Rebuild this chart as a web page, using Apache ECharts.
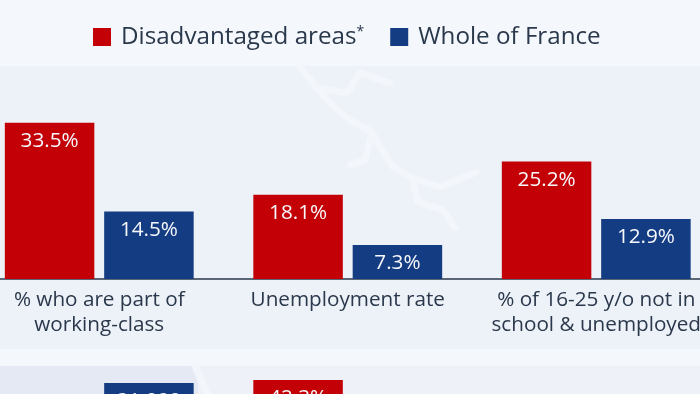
<!DOCTYPE html>
<html>
<head>
<meta charset="utf-8">
<style>
  html, body { margin: 0; padding: 0; background: #f4f7fb; overflow: hidden; }
  #chart { width: 700px; height: 394px; }
</style>
<script src="https://cdn.jsdelivr.net/npm/echarts@6/dist/echarts.min.js"></script>
</head>
<body>
<div id="chart"></div>
<script>
const seriesNames = ["Disadvantaged areas", "Whole of France"];
const categories = ["% who are part of\nworking-class", "Unemployment rate", "% of 16-25 y/o not in\nschool & unemployed"];
const disadvantaged = [33.5, 18.1, 25.2];
const wholeFrance = [14.5, 7.3, 12.9];

// second panel, only the tops of two bars are in the picture
const lowerCategories = ["", "", ""];
const lowerDisadvantaged = [null, 42.3, null];
const lowerWholeFrance = [31000, null, null];

const red = "#c30006";
const blue = "#143c82";
const textColor = "#2a384b";
const fontFamily = "'Open Sans', sans-serif";

const percent = (p) => p.value.toFixed(1) + "%";
const thousands = (p) => p.value.toLocaleString("en-US");

function barLabel(formatter) {
    return {
        show: true,
        position: "insideTop",
        distance: 8,
        color: "#f6f8fb",
        fontFamily: fontFamily,
        fontSize: 20.7,
        formatter: formatter,
    };
}

function river(points) {
    return {
        type: "polyline",
        z: 1,
        shape: { points: points },
        style: {
            stroke: "#f3f6fb",
            lineWidth: 6,
            fill: null,
            lineJoin: "round",
            lineCap: "round",
            shadowBlur: 3,
            shadowColor: "#f3f6fb",
        },
    };
}

const chart = echarts.init(document.getElementById("chart"), null, { renderer: "canvas" });

chart.setOption({
    animation: false,
    backgroundColor: "#f4f7fb",
    textStyle: { fontFamily: fontFamily },
    legend: {
        left: 88,
        top: 20,
        itemWidth: 18,
        itemHeight: 18,
        itemGap: 26,
        icon: "rect",
        data: seriesNames,
        formatter: (name) => name === seriesNames[0] ? name + "{sup|*}" : name,
        textStyle: {
            color: textColor,
            fontFamily: fontFamily,
            fontSize: 24.2,
            padding: [0, 0, 0, 5],
            rich: {
                sup: { fontSize: 14, color: textColor, verticalAlign: "top", padding: [0, 0, 8, 0] },
            },
        },
    },
    graphic: [
        { type: "rect", z: 0, shape: { x: 0, y: 66, width: 700, height: 283 }, style: { fill: "#edf1f8" } },
        { type: "rect", z: 0, shape: { x: 0, y: 366, width: 700, height: 28 }, style: { fill: "#eef2f8" } },
        { type: "rect", z: 0, shape: { x: 0, y: 366, width: 198, height: 28 }, style: { fill: "#e4e9f3" } },
        river([[300, 67], [317, 88], [330, 103], [350, 120], [372, 132], [380, 147], [393, 167], [412, 178], [440, 187], [477, 172]]),
        river([[317, 88], [347, 93], [360, 73], [390, 83]]),
        river([[372, 132], [365, 160], [350, 165]]),
        river([[412, 178], [418, 202], [443, 210], [455, 228]]),
        river([[195, 366], [207, 394]]),
    ],
    grid: [
        { left: -25, top: 66, width: 745.5, height: 213, outerBoundsMode: "none" },
        { left: -25, top: 367, width: 745.5, height: 210, outerBoundsMode: "none" },
    ],
    xAxis: [
        {
            type: "category",
            gridIndex: 0,
            data: categories,
            axisTick: { show: false },
            axisLine: { lineStyle: { color: textColor, width: 1.5 } },
            axisLabel: {
                interval: 0,
                hideOverlap: false,
                color: textColor,
                fontFamily: fontFamily,
                fontSize: 20.7,
                lineHeight: 25,
                margin: 9,
            },
        },
        {
            type: "category",
            gridIndex: 1,
            data: lowerCategories,
            axisTick: { show: false },
            axisLabel: { show: false },
            axisLine: { show: false },
        },
    ],
    yAxis: [
        { type: "value", gridIndex: 0, min: 0, max: 45.7, show: false },
        { type: "value", gridIndex: 1, min: 0, max: 45.1, show: false },
        { type: "value", gridIndex: 1, min: 0, max: 33550, show: false },
    ],
    series: [
        {
            name: seriesNames[0],
            type: "bar",
            xAxisIndex: 0,
            yAxisIndex: 0,
            data: disadvantaged,
            barWidth: 89.5,
            barGap: "11%",
            itemStyle: { color: red },
            label: barLabel(percent),
        },
        {
            name: seriesNames[1],
            type: "bar",
            xAxisIndex: 0,
            yAxisIndex: 0,
            data: wholeFrance,
            barWidth: 89.5,
            barGap: "11%",
            itemStyle: { color: blue },
            label: barLabel(percent),
        },
        {
            name: seriesNames[0],
            type: "bar",
            xAxisIndex: 1,
            yAxisIndex: 1,
            data: lowerDisadvantaged,
            barWidth: 89.5,
            barGap: "11%",
            itemStyle: { color: red },
            label: barLabel(percent),
        },
        {
            name: seriesNames[1],
            type: "bar",
            xAxisIndex: 1,
            yAxisIndex: 2,
            data: lowerWholeFrance,
            barWidth: 89.5,
            barGap: "11%",
            itemStyle: { color: blue },
            label: barLabel(thousands),
        },
    ],
});
</script>
</body>
</html>
